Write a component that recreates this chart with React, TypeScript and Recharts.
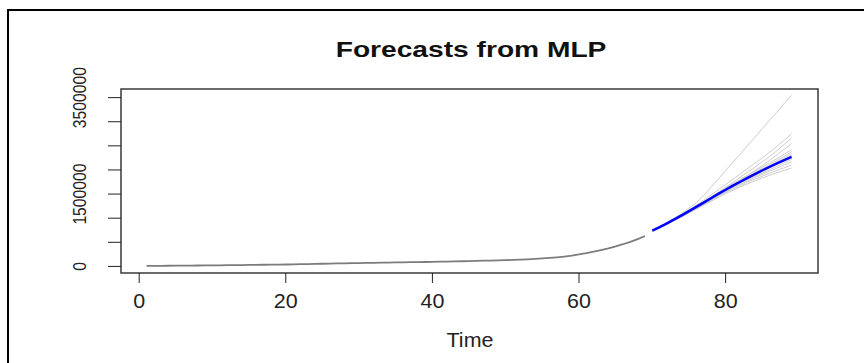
import React from 'react';
import { LineChart, Line, XAxis, YAxis, ReferenceArea } from 'recharts';

// observed series, t = 1..69
const histTime = Array.from({ length: 69 }, (_, i) => i + 1);
const histValues = [
  10000, 11000, 12000, 13500, 15000, 16000, 17500, 19000, 20500, 22000,
  23500, 25000, 26500, 28000, 30000, 32000, 34000, 36000, 38000, 40000,
  43000, 46000, 49000, 52000, 55000, 58000, 61000, 64000, 67000, 70000,
  72000, 75000, 77000, 80000, 82000, 85000, 87000, 90000, 92000, 95000,
  98000, 101000, 104000, 107000, 110000, 114000, 118000, 122000, 126000, 130000,
  135000, 141000, 148000, 156000, 165000, 176000, 189000, 205000, 223000, 250000,
  275000, 305000, 340000, 375000, 415000, 460000, 510000, 565000, 630000,
];

// forecast horizon, t = 70..89
const fcTime = Array.from({ length: 20 }, (_, i) => i + 70);
const meanForecast = [
  740000, 815000, 893000, 974000, 1058000, 1145000, 1234000, 1324000, 1414000, 1503000,
  1590000, 1674000, 1756000, 1836000, 1914000, 1990000, 2064000, 2136000, 2206000, 2272000,
];

// individual network forecasts
const netForecasts = [
  [740000, 820000, 910000, 1000000, 1100000, 1210000, 1320000, 1470000, 1640000, 1810000,
    1990000, 2160000, 2330000, 2510000, 2680000, 2860000, 3030000, 3200000, 3380000, 3550000],
  [740000, 820000, 900000, 990000, 1080000, 1170000, 1270000, 1370000, 1480000, 1590000,
    1700000, 1810000, 1920000, 2030000, 2140000, 2250000, 2370000, 2490000, 2620000, 2750000],
  [740000, 815000, 895000, 980000, 1065000, 1150000, 1245000, 1340000, 1440000, 1540000,
    1640000, 1745000, 1850000, 1955000, 2060000, 2170000, 2280000, 2400000, 2530000, 2660000],
  [740000, 812000, 890000, 972000, 1055000, 1140000, 1230000, 1320000, 1415000, 1510000,
    1605000, 1700000, 1795000, 1890000, 1990000, 2090000, 2200000, 2310000, 2430000, 2550000],
  [746000, 818000, 898000, 980000, 1065000, 1152000, 1244000, 1336000, 1432000, 1530000,
    1628000, 1716000, 1804000, 1892000, 1976000, 2060000, 2148000, 2236000, 2328000, 2420000],
  [745000, 815000, 895000, 975000, 1060000, 1145000, 1235000, 1325000, 1420000, 1515000,
    1610000, 1695000, 1780000, 1865000, 1945000, 2025000, 2110000, 2195000, 2285000, 2380000],
  [742000, 812000, 892000, 972000, 1055000, 1140000, 1230000, 1320000, 1410000, 1505000,
    1595000, 1680000, 1765000, 1845000, 1925000, 2000000, 2080000, 2165000, 2250000, 2340000],
  [740000, 810000, 890000, 970000, 1052000, 1135000, 1225000, 1315000, 1405000, 1497000,
    1588000, 1670000, 1752000, 1832000, 1908000, 1982000, 2058000, 2138000, 2218000, 2300000],
  [738000, 808000, 886000, 966000, 1046000, 1126000, 1214000, 1302000, 1390000, 1478000,
    1566000, 1644000, 1722000, 1798000, 1868000, 1936000, 2004000, 2076000, 2148000, 2220000],
  [736000, 805000, 883000, 962000, 1040000, 1118000, 1205000, 1292000, 1378000, 1464000,
    1550000, 1626000, 1700000, 1774000, 1842000, 1908000, 1974000, 2040000, 2105000, 2170000],
  [735000, 803000, 880000, 958000, 1035000, 1112000, 1197000, 1282000, 1366000, 1450000,
    1532000, 1605000, 1676000, 1746000, 1810000, 1872000, 1932000, 1990000, 2046000, 2100000],
  [734000, 800000, 876000, 953000, 1028000, 1104000, 1186000, 1268000, 1350000, 1430000,
    1510000, 1580000, 1648000, 1714000, 1775000, 1834000, 1890000, 1943000, 1993000, 2040000],
];

const xTicks = [0, 20, 40, 60, 80];
const yTicks = [0, 500000, 1000000, 1500000, 2000000, 2500000, 3000000, 3500000];
const yTickLabels = ['0', '', '', '1500000', '', '', '', '3500000'];

const xDomain = [-2.48, 92.6];
const yDomain = [-136600, 3679000];

const rows: any[] = [];
histTime.forEach((t, i) => rows.push({ t, hist: histValues[i] }));
fcTime.forEach((t, i) => {
  const row: any = { t, mean: meanForecast[i] };
  netForecasts.forEach((s, k) => { row['n' + k] = s[i]; });
  rows.push(row);
});

const FONT = '"Liberation Sans", Arial, sans-serif';

const XTick = (props: any) => {
  const { x, y, payload } = props;
  return (
    <text transform={`translate(${x},${y + 23}) scale(1.1,1)`} textAnchor="middle"
      fontFamily={FONT} fontSize={19.5} fill="#222">
      {payload.value}
    </text>
  );
};

const YTick = (props: any) => {
  const { y, payload } = props;
  const label = yTickLabels[yTicks.indexOf(payload.value)];
  if (!label) return null;
  return (
    <text transform={`translate(85.5,${y}) scale(1.12,1) rotate(-90)`} textAnchor="middle"
      fontFamily={FONT} fontSize={15.7} fill="#222">
      {label}
    </text>
  );
};

export default function App() {
  return (
    <div style={{ position: 'absolute', left: 0, top: 0, width: 864, height: 363, background: '#fff', overflow: 'hidden' }}>
      <div style={{ position: 'absolute', left: 7, top: 9, width: 900, height: 400, borderTop: '2px solid #000', borderLeft: '2px solid #000' }} />
      <div style={{
        position: 'absolute', left: 0, width: 942, top: 36, textAlign: 'center', fontFamily: FONT,
        fontWeight: 'bold', fontSize: 22, lineHeight: '28px', color: '#111', transform: 'scaleX(1.28)', transformOrigin: '0 0',
      }}>
        <div style={{ width: 736, margin: '0 auto', position: 'relative', left: -103 }}>Forecasts from MLP</div>
      </div>
      <LineChart width={864} height={363} data={rows} margin={{ top: 89, right: 46, bottom: 60, left: 61 }}>
        <XAxis dataKey="t" type="number" domain={xDomain} allowDataOverflow ticks={xTicks}
          tickSize={10} axisLine={false} tickLine={{ stroke: '#222' }} height={30} tick={<XTick />} />
        <YAxis type="number" domain={yDomain} allowDataOverflow ticks={yTicks}
          tickSize={13} axisLine={false} tickLine={{ stroke: '#222' }} width={60} tick={<YTick />} />
        <ReferenceArea x1={xDomain[0]} x2={xDomain[1]} y1={yDomain[0]} y2={yDomain[1]}
          fill="none" stroke="#3a3a3a" strokeWidth={1.5} />
        {netForecasts.map((_, k) => (
          <Line key={k} dataKey={'n' + k} stroke="#cdcdcd" strokeWidth={1} dot={false}
            activeDot={false} isAnimationActive={false} />
        ))}
        <Line dataKey="hist" stroke="#7c7c7c" strokeWidth={1.8} dot={false} activeDot={false} isAnimationActive={false} />
        <Line dataKey="mean" stroke="#0000ff" strokeWidth={2.5} dot={false} activeDot={false} isAnimationActive={false} />
      </LineChart>
      <div style={{
        position: 'absolute', left: 470, top: 328, transform: 'translateX(-50%) scaleX(1.1)', fontFamily: FONT,
        fontSize: 19.5, lineHeight: '24px', color: '#222', whiteSpace: 'nowrap',
      }}>Time</div>
    </div>
  );
}
